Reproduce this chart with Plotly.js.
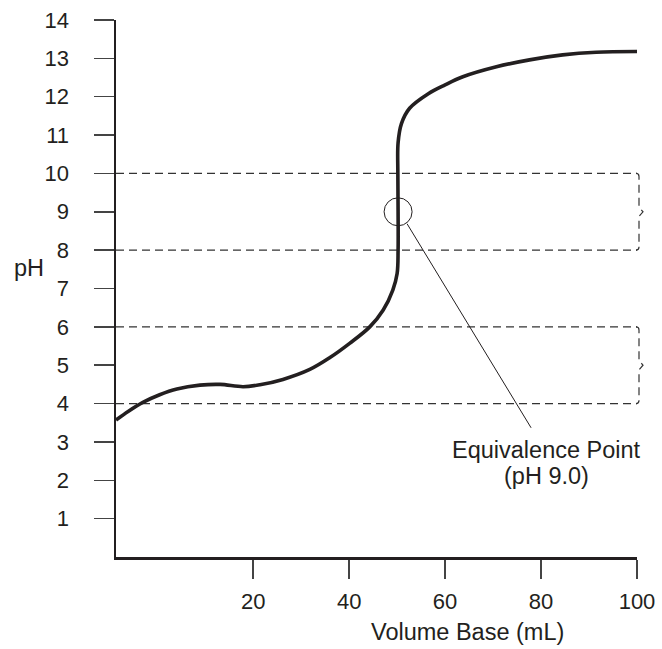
<!DOCTYPE html>
<html>
<head>
<meta charset="utf-8">
<script src="https://cdn.plot.ly/plotly-3.0.1.min.js"></script>
<style>html,body{margin:0;padding:0;background:#fff;}#chart{width:662px;height:649px;}</style>
</head>
<body>
<div id="chart"></div>
<script>
// Titration curve
const volumeBase = [-8.6, -6.0, -3.0, 0.5, 4.1, 8.9, 13.1, 17.9, 21.4, 26.2, 31.8, 36.0, 40.1, 44.3, 47.1, 49.1, 50.0, 50.2, 50.2, 50.15, 50.2, 50.9, 52.6, 56.5, 60.0, 63.7, 70.7, 77.6, 84.5, 91.5, 100];
const pHValues   = [3.57, 3.80, 4.03, 4.23, 4.38, 4.48, 4.50, 4.44, 4.49, 4.63, 4.89, 5.20, 5.57, 6.00, 6.44, 6.96, 7.39, 8.0, 9.0, 10.0, 10.8, 11.3, 11.7, 12.08, 12.31, 12.52, 12.78, 12.96, 13.09, 13.16, 13.18];

const xTicks = [20, 40, 60, 80, 100];
const yTicks = [1, 2, 3, 4, 5, 6, 7, 8, 9, 10, 11, 12, 13, 14];

// Buffer ranges (dashed bands with braces)
const bandLow  = [4, 8];
const bandHigh = [6, 10];

// Equivalence point
const eqVolume = 50.2;
const eqPH = 9.0;
const eqLabelLines = ["Equivalence Point", "(pH 9.0)"];

const xTitle = "Volume Base (mL)";
const yTitle = "pH";

const ink = "#231f20";
const font = "Liberation Sans, Arial, Helvetica, sans-serif";

const shapes = [];
bandLow.forEach((lo, i) => {
  const hi = bandHigh[i];
  const mid = (lo + hi) / 2;
  const dash = {color: "#333", width: 1.2, dash: "8px,5px"};
  [lo, hi].forEach(v => shapes.push({
    type: "line", xref: "paper", yref: "y", x0: 0, x1: 1, y0: v, y1: v,
    line: dash, layer: "below"
  }));
  shapes.push({
    type: "path", xref: "paper", yref: "y", xsizemode: "pixel", xanchor: 1,
    path: `M -1,${hi} Q 2,${hi} 2,${hi - 0.08} L 2,${mid + 0.12} L 6,${mid} L 2,${mid - 0.12} L 2,${lo + 0.08} Q 2,${lo} -1,${lo}`,
    line: dash, layer: "below"
  });
});
shapes.push({
  type: "circle", xref: "x", yref: "y", xsizemode: "pixel", ysizemode: "pixel",
  xanchor: eqVolume, yanchor: eqPH, x0: -14, x1: 14, y0: -14, y1: 14,
  line: {color: ink, width: 1}
});
shapes.push({
  type: "line", xref: "x", yref: "y", xsizemode: "pixel", ysizemode: "pixel",
  xanchor: eqVolume, yanchor: eqPH, x0: 9, y0: -12, x1: 133, y1: -216,
  line: {color: ink, width: 1}
});

const trace = {
  x: volumeBase, y: pHValues, type: "scatter", mode: "lines",
  line: {color: ink, width: 3.6, shape: "spline", smoothing: 1},
  cliponaxis: false, hoverinfo: "skip"
};

const axisCommon = {
  showgrid: false, zeroline: false, showline: true, linecolor: ink, linewidth: 2.5,
  ticks: "outside", tickcolor: "#444", tickwidth: 1.5,
  tickfont: {family: font, size: 22, color: ink}
};

const labelFont = {family: font, size: 23.5, color: ink};

const layout = {
  width: 662, height: 649,
  margin: {l: 116, r: 25, t: 20, b: 92},
  paper_bgcolor: "#fff", plot_bgcolor: "#fff",
  showlegend: false,
  xaxis: Object.assign({}, axisCommon, {
    range: [-8.6, 100], tickvals: xTicks, ticktext: xTicks.map(String),
    ticklen: 19, ticklabelstandoff: 4
  }),
  yaxis: Object.assign({}, axisCommon, {
    range: [0, 14], tickvals: yTicks, ticktext: yTicks.map(String),
    ticklen: 20, ticklabelstandoff: 20
  }),
  shapes: shapes,
  annotations: eqLabelLines.map((t, i) => ({
    text: t, xref: "x", yref: "y", x: eqVolume, y: eqPH, showarrow: false,
    xshift: 148, yshift: -238 - 26 * i, xanchor: "center", yanchor: "middle",
    font: labelFont
  })).concat([
    {text: xTitle, xref: "paper", yref: "paper", x: 0.675, y: -0.14, showarrow: false,
     xanchor: "center", yanchor: "middle", font: labelFont},
    {text: yTitle, xref: "paper", yref: "paper", x: -0.167, y: 0.538, showarrow: false,
     xanchor: "center", yanchor: "middle", font: labelFont}
  ])
};

Plotly.newPlot("chart", [trace], layout, {staticPlot: true, displayModeBar: false});
</script>
</body>
</html>
